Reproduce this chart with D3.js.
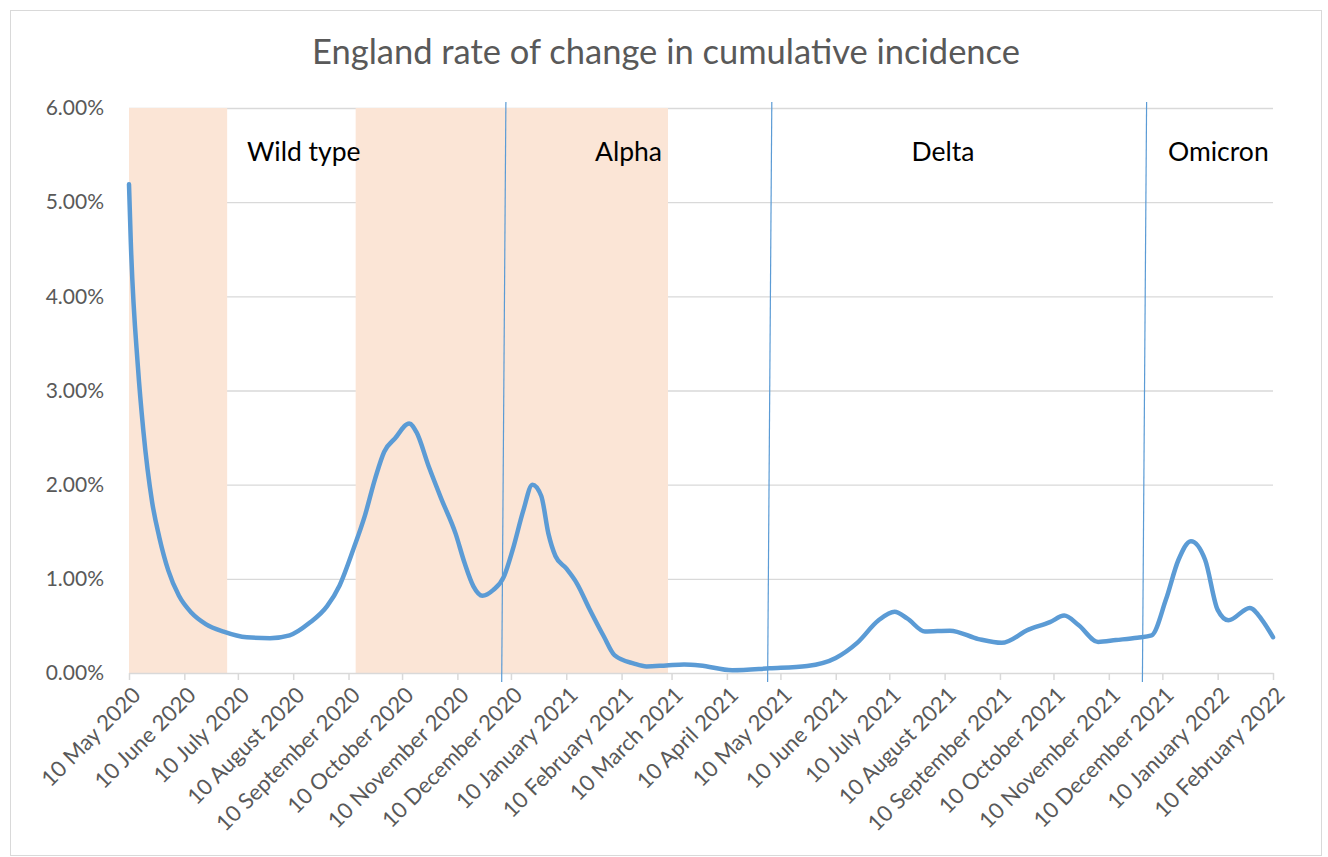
<!DOCTYPE html>
<html>
<head>
<meta charset="utf-8">
<script src="https://cdn.jsdelivr.net/npm/d3@7"></script>
<style>
  html, body { margin: 0; padding: 0; background: #fff; }
  svg { display: block; font-family: Lato, "Open Sans", sans-serif; }
</style>
</head>
<body>
<svg id="chart" width="1328" height="857"></svg>
<script>
// Daily rate of change in cumulative incidence, England (percent per day)
const rateDates = [
  "2020-05-10","2020-05-11","2020-05-15","2020-05-18","2020-05-23","2020-05-27",
  "2020-06-01","2020-06-07","2020-06-14","2020-06-22","2020-07-02","2020-07-15",
  "2020-07-28","2020-08-08","2020-08-19","2020-08-29","2020-09-05","2020-09-13",
  "2020-09-19","2020-09-25","2020-09-30","2020-10-06","2020-10-14","2020-10-18",
  "2020-10-25","2020-11-01","2020-11-09","2020-11-14","2020-11-19","2020-11-24",
  "2020-11-30","2020-12-06","2020-12-11","2020-12-17","2020-12-22","2020-12-27",
  "2020-12-31","2021-01-04","2021-01-10","2021-01-16","2021-01-23","2021-01-31",
  "2021-02-06","2021-02-17","2021-02-24","2021-03-07","2021-03-17","2021-03-26",
  "2021-04-13","2021-05-04","2021-05-25","2021-06-10","2021-06-22","2021-07-04",
  "2021-07-13","2021-07-20","2021-07-30","2021-08-13","2021-08-29","2021-09-11",
  "2021-09-26","2021-10-08","2021-10-16","2021-10-24","2021-11-04","2021-11-14",
  "2021-11-26","2021-12-04","2021-12-12","2021-12-19","2021-12-26","2022-01-03",
  "2022-01-10","2022-01-16","2022-01-28","2022-02-04","2022-02-10"
];
const rateValues = [
  5.19, 4.58, 3.25, 2.58, 1.81, 1.44,
  1.09, 0.82, 0.64, 0.52, 0.44, 0.38,
  0.37, 0.40, 0.53, 0.71, 0.93, 1.33,
  1.66, 2.07, 2.35, 2.49, 2.65, 2.56,
  2.19, 1.85, 1.48, 1.17, 0.92, 0.82,
  0.88, 1.02, 1.31, 1.73, 2.00, 1.88,
  1.48, 1.24, 1.11, 0.95, 0.68, 0.39,
  0.19, 0.10, 0.07, 0.08, 0.09, 0.08,
  0.03, 0.05, 0.075, 0.16, 0.32, 0.56,
  0.65, 0.58, 0.44, 0.45, 0.36, 0.32,
  0.46, 0.54, 0.61, 0.51, 0.33, 0.35,
  0.375, 0.40, 0.78, 1.20, 1.40, 1.20,
  0.67, 0.56, 0.69, 0.56, 0.38
];

// Restriction periods shaded behind the series
const periodStarts = ["2020-05-10", "2020-09-14"];
const periodEnds   = ["2020-07-04", "2021-03-08"];

// Dominant-variant boundaries
const variantBoundaries = ["2020-12-06", "2021-05-04", "2021-11-30"];
const variantNames = ["Wild type", "Alpha", "Delta", "Omicron"];

// Axis ticks
const xTickLabels = [
  "10 May 2020","10 June 2020","10 July 2020","10 August 2020","10 September 2020",
  "10 October 2020","10 November 2020","10 December 2020","10 January 2021",
  "10 February 2021","10 March 2021","10 April 2021","10 May 2021","10 June 2021",
  "10 July 2021","10 August 2021","10 September 2021","10 October 2021",
  "10 November 2021","10 December 2021","10 January 2022","10 February 2022"
];
const yTickValues = [0, 1, 2, 3, 4, 5, 6];
const yTickLabels = ["0.00%","1.00%","2.00%","3.00%","4.00%","5.00%","6.00%"];

const chartTitle = "England rate of change in cumulative incidence";

// ---- layout ----
const W = 1328, H = 857;
const plot = { left: 129, right: 1273, top: 108, bottom: 673 };
const gridColor = "#d9d9d9";
const textGrey = "#595959";
const seriesBlue = "#5b9bd5";
const shadeFill = "#fbe5d6";

const parseISO = d3.utcParse("%Y-%m-%d");
const parseTick = d3.utcParse("%d %B %Y");

const x = d3.scaleUtc()
  .domain([parseISO(rateDates[0]), parseISO(rateDates[rateDates.length - 1])])
  .range([plot.left, plot.right]);
const y = d3.scaleLinear().domain([0, 6]).range([plot.bottom, plot.top]);

const svg = d3.select("#chart");

// outer chart frame
svg.append("rect")
  .attr("x", 10.5).attr("y", 10.5)
  .attr("width", 1311).attr("height", 845)
  .attr("fill", "#fff").attr("stroke", gridColor).attr("stroke-width", 1);

// title
svg.append("text")
  .attr("x", 666).attr("y", 64)
  .attr("text-anchor", "middle")
  .attr("fill", textGrey)
  .style("font-size", "34.5px")
  .text(chartTitle);

// horizontal gridlines
svg.append("g")
  .attr("transform", `translate(${plot.left},0)`)
  .call(d3.axisLeft(y).tickValues(yTickValues.slice(1))
    .tickSize(-(plot.right - plot.left)).tickFormat(""))
  .call(g => g.select(".domain").remove())
  .call(g => g.selectAll("line").attr("stroke", gridColor).attr("stroke-width", 1.3));

// y labels
svg.append("g")
  .attr("transform", `translate(${plot.left},0)`)
  .call(d3.axisLeft(y).tickValues(yTickValues).tickSize(0).tickPadding(25)
    .tickFormat((d, i) => yTickLabels[i]))
  .call(g => g.select(".domain").remove())
  .call(g => g.selectAll("text")
    .attr("fill", textGrey)
    .style("font-size", "21px")
    .style("font-family", "Lato, sans-serif"));

// shaded periods
svg.append("g")
  .selectAll("rect")
  .data(periodStarts.map((s, i) => ({ s: parseISO(s), e: parseISO(periodEnds[i]) })))
  .join("rect")
  .attr("x", d => x(d.s))
  .attr("width", d => x(d.e) - x(d.s))
  .attr("y", y(6))
  .attr("height", y(0) - y(6))
  .attr("fill", shadeFill);

// x axis with rotated month labels
const xAxis = svg.append("g")
  .attr("transform", `translate(0,${plot.bottom})`)
  .call(d3.axisBottom(x)
    .tickValues(xTickLabels.map(t => parseTick(t)))
    .tickSize(7).tickSizeOuter(0)
    .tickFormat((d, i) => xTickLabels[i]));
xAxis.select(".domain").attr("stroke", gridColor).attr("stroke-width", 1.5);
xAxis.selectAll(".tick line").attr("stroke", gridColor).attr("stroke-width", 1.5);
xAxis.selectAll(".tick text")
  .attr("fill", textGrey)
  .style("font-size", "22px")
  .style("font-family", "Lato, sans-serif")
  .attr("text-anchor", "end")
  .attr("x", 0).attr("y", 0).attr("dy", "0.35em")
  .attr("transform", "translate(7,18) rotate(-45)");

// series line
const line = d3.line()
  .x((d, i) => x(parseISO(rateDates[i])))
  .y(d => y(d))
  .curve(d3.curveMonotoneX);
svg.append("path")
  .datum(rateValues)
  .attr("d", line)
  .attr("fill", "none")
  .attr("stroke", seriesBlue)
  .attr("stroke-width", 4.5)
  .attr("stroke-linejoin", "round")
  .attr("stroke-linecap", "round");

// variant boundary markers (hand-drawn, slightly leaning)
const lean = 2.1;
svg.append("g")
  .selectAll("line")
  .data(variantBoundaries.map(parseISO))
  .join("line")
  .attr("x1", d => x(d) + lean).attr("y1", 102)
  .attr("x2", d => x(d) - lean).attr("y2", 682)
  .attr("stroke", seriesBlue)
  .attr("stroke-width", 1.2);

// variant names
const labelPos = [
  { x: 247, anchor: "start" },
  { x: 662, anchor: "end" },
  { x: 943, anchor: "middle" },
  { x: 1168, anchor: "start" }
];
svg.append("g")
  .selectAll("text")
  .data(variantNames)
  .join("text")
  .attr("x", (d, i) => labelPos[i].x)
  .attr("y", 161)
  .attr("text-anchor", (d, i) => labelPos[i].anchor)
  .attr("fill", "#000")
  .style("font-size", "26.5px")
  .text(d => d);
</script>
</body>
</html>
